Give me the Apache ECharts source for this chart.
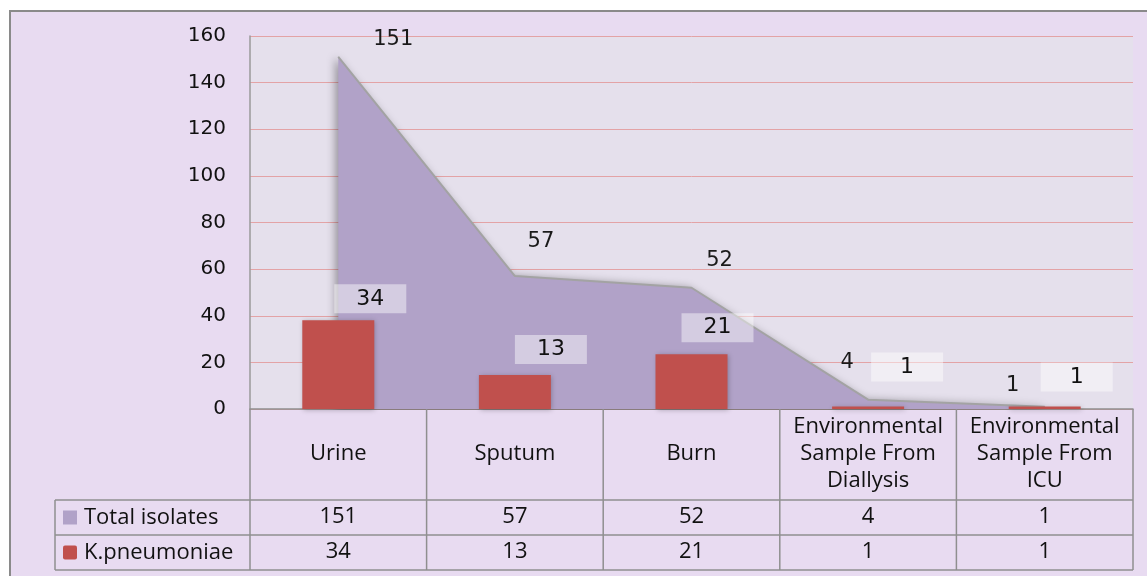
<!DOCTYPE html>
<html>
<head>
<meta charset="utf-8">
<script src="https://cdn.jsdelivr.net/npm/echarts@6/dist/echarts.min.js"></script>
<style>
  html, body { margin: 0; padding: 0; background: #fff; }
  #chart { width: 1147px; height: 576px; }
</style>
</head>
<body>
<div id="chart"></div>
<script>
const categories = ['Urine', 'Sputum', 'Burn', 'Environmental\nSample From\nDiallysis', 'Environmental\nSample From\nICU']
const totalIsolates = [151, 57, 52, 4, 1]
const kPneumoniae = [34, 13, 21, 1, 1]
const yTicks = { min: 0, max: 160, interval: 20 }

const seriesNames = ['Total isolates', 'K.pneumoniae']
const areaColor = '#b1a2c8'
const barColor = '#c0504d'
const tableLine = '#8f8f8f'
const tableFont = '"Open Sans", sans-serif'
const labelFont = '"DejaVu Sans", sans-serif'

// label nudges, Excel placed them by hand
const areaLabelOffsets = [[55, -6], [26, -24], [28, -16], [-21, -26], [-32, -10]]
const barLabelOffsets = [[32, -7], [36, -11], [26, -12], [39, -25], [32, -15]]

const grid = { left: 250, right: 14, top: 36, bottom: 167 }

const chart = echarts.init(document.getElementById('chart'))

function tableAxis(values, offset) {
  return {
    type: 'category',
    gridIndex: 0,
    position: 'bottom',
    offset: offset,
    data: categories,
    axisLine: { show: false },
    axisTick: { show: false },
    axisLabel: {
      interval: 0,
      margin: 0,
      verticalAlign: 'middle',
      fontFamily: tableFont,
      fontSize: 22,
      color: '#111',
      formatter: (v, i) => String(values[i])
    }
  }
}

const option = {
  backgroundColor: '#fff',
  animation: false,
  grid: Object.assign({ show: true, backgroundColor: '#e5e0ec', borderWidth: 0 }, grid),
  xAxis: [
    {
      type: 'category',
      data: categories,
      axisLine: { show: true, lineStyle: { color: tableLine, width: 1.5 } },
      axisTick: { show: false },
      axisLabel: {
        interval: 0,
        margin: 45,
        verticalAlign: 'middle',
        lineHeight: 27,
        fontFamily: tableFont,
        fontSize: 22,
        color: '#111'
      }
    },
    tableAxis(totalIsolates, 108),
    tableAxis(kPneumoniae, 143)
  ],
  yAxis: [
    {
      type: 'value',
      min: yTicks.min,
      max: yTicks.max,
      interval: yTicks.interval,
      axisLine: { show: true, lineStyle: { color: '#9a9a9a', width: 1.5 } },
      axisTick: { show: false },
      axisLabel: { margin: 24, fontFamily: labelFont, fontSize: 20, color: '#111' },
      splitLine: { lineStyle: { color: '#e3a3a6', width: 1 } }
    },
    {
      // bars sit on their own scale in the original sheet
      type: 'value',
      min: 0,
      max: 143,
      show: false,
      splitLine: { show: false }
    }
  ],
  series: [
    {
      name: seriesNames[0],
      type: 'line',
      data: totalIsolates.map((v, i) => ({
        value: v,
        label: { offset: areaLabelOffsets[i] }
      })),
      symbol: 'circle',
      symbolSize: 1,
      showSymbol: true,
      itemStyle: { color: '#a6a6a6' },
      lineStyle: { color: '#a3a3a3', width: 2 },
      areaStyle: {
        color: areaColor,
        opacity: 1,
        shadowColor: 'rgba(0,0,0,0.35)',
        shadowBlur: 8,
        shadowOffsetX: -3
      },
      label: {
        show: true,
        position: 'top',
        distance: 0,
        fontFamily: labelFont,
        fontSize: 21,
        color: '#1a1a1a'
      },
      z: 2
    },
    {
      name: seriesNames[1],
      type: 'bar',
      yAxisIndex: 1,
      barWidth: 72,
      data: kPneumoniae.map((v, i) => ({
        value: v,
        label: { offset: barLabelOffsets[i] }
      })),
      itemStyle: {
        color: barColor,
        shadowColor: 'rgba(0,0,0,0.25)',
        shadowBlur: 5,
        shadowOffsetX: 1,
        shadowOffsetY: 1
      },
      label: {
        show: true,
        position: 'top',
        distance: 0,
        fontFamily: labelFont,
        fontSize: 22,
        color: '#111',
        backgroundColor: 'rgba(255,255,255,0.45)',
        width: 72,
        align: 'center',
        lineHeight: 23,
        padding: [3, 0, 3, 0]
      },
      z: 3
    }
  ]
}

chart.setOption(option)

// frame, data table rules and legend keys, placed from the category scale
function drawTable() {
  const bandHalf = (chart.convertToPixel({ xAxisIndex: 0 }, categories[1]) -
    chart.convertToPixel({ xAxisIndex: 0 }, categories[0])) / 2
  const plotRight = 1147 - grid.right
  const axisY = chart.convertToPixel({ yAxisIndex: 0 }, 0)
  const row1 = axisY + 91
  const row2 = row1 + 35
  const row3 = row2 + 35
  const keyLeft = 55
  const stroke = { stroke: tableLine, lineWidth: 1.5 }
  const g = []

  g.push({
    type: 'rect', z: -10, silent: true,
    shape: { x: 10, y: 11, width: 1150, height: 580 },
    style: { fill: '#e8dbf1', stroke: '#8a8a8a', lineWidth: 2 }
  })

  const edges = categories.map(c => chart.convertToPixel({ xAxisIndex: 0 }, c) - bandHalf)
  edges.push(plotRight)
  edges.forEach(x => {
    g.push({ type: 'line', z: 10, shape: { x1: x, y1: axisY, x2: x, y2: row3 }, style: stroke })
  })
  g.push({ type: 'line', z: 10, shape: { x1: keyLeft, y1: row1, x2: keyLeft, y2: row3 }, style: stroke })
  ;[row1, row2, row3].forEach(y => {
    g.push({ type: 'line', z: 10, shape: { x1: keyLeft, y1: y, x2: plotRight, y2: y }, style: stroke })
  })

  const keyColors = [areaColor, barColor]
  ;[row1, row2].forEach((top, i) => {
    const cy = top + 17.5
    g.push({
      type: 'rect', z: 10,
      shape: { x: keyLeft + 8, y: cy - 7, width: 14, height: 14, r: i === 1 ? 2 : 0 },
      style: { fill: keyColors[i] }
    })
    g.push({
      type: 'text', z: 10,
      x: keyLeft + 29, y: cy,
      style: {
        text: seriesNames[i],
        fontFamily: tableFont,
        fontSize: 22,
        fill: '#111',
        verticalAlign: 'middle'
      }
    })
  })

  chart.setOption({ graphic: g })
}

drawTable()
</script>
</body>
</html>
